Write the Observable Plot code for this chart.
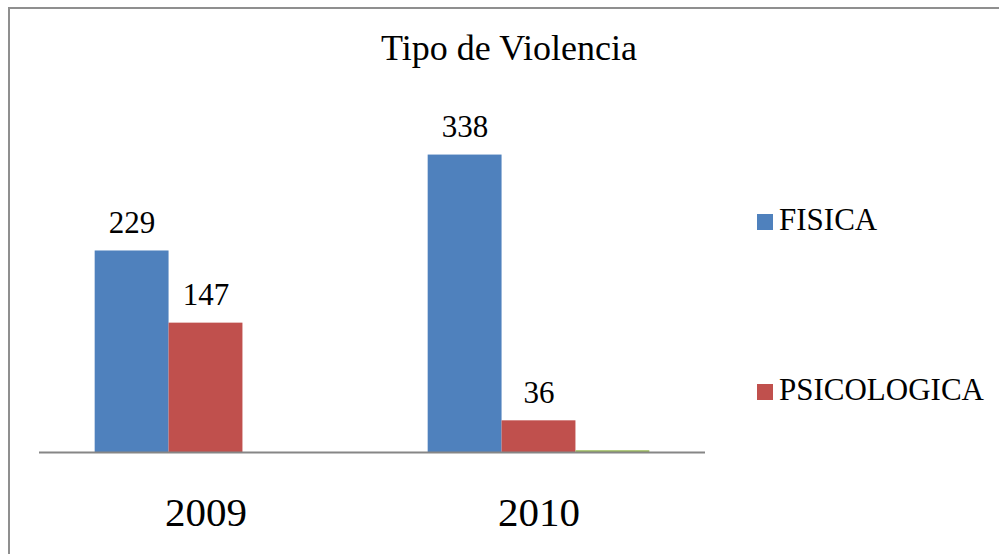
<!DOCTYPE html>
<html>
<head>
<meta charset="utf-8">
<script src="https://cdn.jsdelivr.net/npm/d3@7"></script>
<script src="https://cdn.jsdelivr.net/npm/@observablehq/plot@0.6"></script>
<style>
  html, body { margin: 0; padding: 0; background: #fff; }
  #wrap { position: relative; width: 999px; height: 554px; overflow: hidden; font-family: "Liberation Serif", "Times New Roman", serif; }
  #border { position: absolute; left: 8px; top: 7px; width: 1200px; height: 600px; border-left: 2px solid #8f8f8f; border-top: 2px solid #8f8f8f; box-sizing: border-box; }
  #title { position: absolute; left: 0; width: 1018px; top: 28px; text-align: center; font-size: 36px; line-height: 40px; color: #000; }
  .leg { position: absolute; left: 757px; font-size: 31px; line-height: 34px; color: #000; white-space: nowrap; }
  .leg .sw { display: inline-block; width: 16px; height: 16px; margin-right: 6px; vertical-align: 0px; }
  #chart { position: absolute; left: 0; top: 0; }
</style>
</head>
<body>
<div id="wrap">
  <div id="border"></div>
  <div id="chart"></div>
  <div id="title">Tipo de Violencia</div>
  <div id="legend"></div>
</div>
<script>
const years = ["2009", "2010"];
const seriesNames = ["FISICA", "PSICOLOGICA", "OTRA"];
const fisica = [229, 338];
const psicologica = [147, 36];
const otra = [0, 2];
const legendNames = ["FISICA", "PSICOLOGICA"];
const colors = ["#4F81BD", "#C0504D", "#9BBB59"];

const valuesBySeries = [fisica, psicologica, otra];
const data = [];
years.forEach((yr, i) => {
  seriesNames.forEach((s, j) => {
    data.push({year: yr, serie: s, value: valuesBySeries[j][i]});
  });
});
const labeled = data.filter(d => legendNames.includes(d.serie));

const font = "'Liberation Serif', 'Times New Roman', serif";

const chart = Plot.plot({
  width: 999,
  height: 554,
  marginLeft: 38,
  marginRight: 294,
  marginTop: 100,
  marginBottom: 102,
  style: {background: "transparent", fontFamily: font, color: "#000"},
  fx: {domain: years, padding: 0, axis: null},
  x: {domain: seriesNames, paddingInner: 0, paddingOuter: 0.7535, axis: null, round: false},
  y: {domain: [0, 400], axis: null},
  color: {domain: seriesNames, range: colors},
  marks: [
    Plot.barY(data, {fx: "year", x: "serie", y: "value", fill: "serie"}),
    Plot.ruleY([0], {stroke: "#868686", strokeWidth: 2}),
    Plot.text(labeled, {fx: "year", x: "serie", y: "value", text: d => String(d.value), dy: -18, lineAnchor: "bottom", fontSize: 31, fontFamily: font, fill: "#000"}),
    Plot.text(years, {fx: d => d, text: d => d, frameAnchor: "bottom", lineAnchor: "bottom", dy: 73, fontSize: 41, fontFamily: font, fill: "#000"})
  ]
});
document.getElementById("chart").appendChild(chart);

const legend = document.getElementById("legend");
const legendTops = [203, 373];
legendNames.forEach((name, i) => {
  const div = document.createElement("div");
  div.className = "leg";
  div.style.top = legendTops[i] + "px";
  const sw = document.createElement("span");
  sw.className = "sw";
  sw.style.background = colors[seriesNames.indexOf(name)];
  div.appendChild(sw);
  div.appendChild(document.createTextNode(name));
  legend.appendChild(div);
});
</script>
</body>
</html>
